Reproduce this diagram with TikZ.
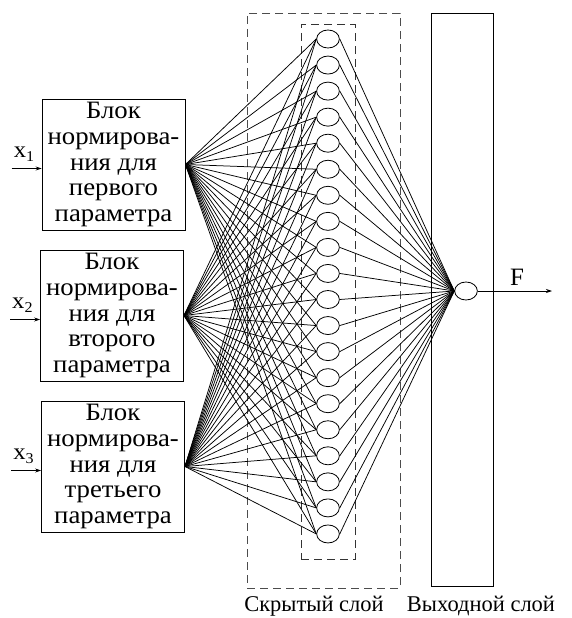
\documentclass[tikz,border=0pt]{standalone}
\usepackage{fontspec}
\setmainfont{Liberation Serif}[FakeStretch=1.07]
\newfontfamily\capfont{Liberation Serif}
\usetikzlibrary{arrows.meta,shapes.geometric}
\begin{document}
\begin{tikzpicture}[x=1pt,y=-1pt,
  neuron/.style={draw, ellipse, minimum width=22.7pt, minimum height=18pt, inner sep=0pt, line width=0.8pt},
  blockbox/.style={draw, line width=0.9pt, minimum width=143pt, minimum height=131pt, align=center,
    font=\fontsize{25}{25.8}\selectfont, inner sep=0pt},
  conn/.style={line width=0.75pt},
  inarrow/.style={line width=0.8pt, -{Stealth[length=6pt,width=4pt]}},
  outerdash/.style={draw=black!70, line width=0.8pt, dash pattern=on 8pt off 5pt, minimum width=153pt, minimum height=575pt, inner sep=0pt},
  innerdash/.style={draw=black!80, line width=1pt, dash pattern=on 8pt off 5pt, minimum width=54pt, minimum height=534pt, inner sep=0pt},
  outrect/.style={draw, line width=0.9pt, minimum width=62pt, minimum height=573pt, inner sep=0pt},
  lbl/.style={font=\fontsize{23}{26}\selectfont, inner sep=0pt},
  caption/.style={font=\capfont\fontsize{22.5}{26}\selectfont, inner sep=0pt}
]
\useasboundingbox (0,0) rectangle (571,618);

% layer frames
\node[outerdash] (hout) at (323.5,300.5) {};
\node[innerdash] (hin) at (328,292) {};
\node[outrect] (orect) at (462,299.5) {};

% input blocks
\node[blockbox] (b1) at (113.5,164.5) {Блок\\нормирова-\\ния для\\первого\\параметра};
\node[blockbox] (b2) at (112,315.5) {Блок\\нормирова-\\ния для\\второго\\параметра};
\node[blockbox] (b3) at (113,466.5) {Блок\\нормирова-\\ния для\\третьего\\параметра};

% hidden neurons
\foreach \i in {1,...,20}
  \node[neuron] (n\i) at (328,{39+(\i-1)*26.05}) {};

% output neuron
\node[neuron] (on) at (466,291) {};

% connections
\foreach \b in {b1,b2,b3}
  \foreach \i in {1,...,20}
    \draw[conn] (\b.east) -- (n\i.west);
\foreach \i in {1,...,20}
  \draw[conn] (n\i.east) -- (on.west);

% inputs
\foreach \k/\b in {1/b1,2/b2,3/b3}{
  \coordinate (s\k) at ([xshift=-30pt,yshift=-4pt]\b.west);
  \draw[inarrow] (s\k) -- ([yshift=-4pt]\b.west);
  \node[lbl, anchor=base west] (x\k) at ([xshift=2pt,yshift=11pt]s\k) {x\raisebox{-3.5pt}{\fontsize{15}{15}\selectfont\k}};
}

% output
\coordinate (fend) at (552,291);
\draw[inarrow] (on.east) -- (fend);
\node[lbl, font=\capfont\fontsize{25}{28}\selectfont] (F) at (517,277) {F};

% captions
\node[caption] (ch) at (314,606) {Скрытый слой};
\node[caption] (co) at (481,606) {Выходной слой};
\end{tikzpicture}
\end{document}
